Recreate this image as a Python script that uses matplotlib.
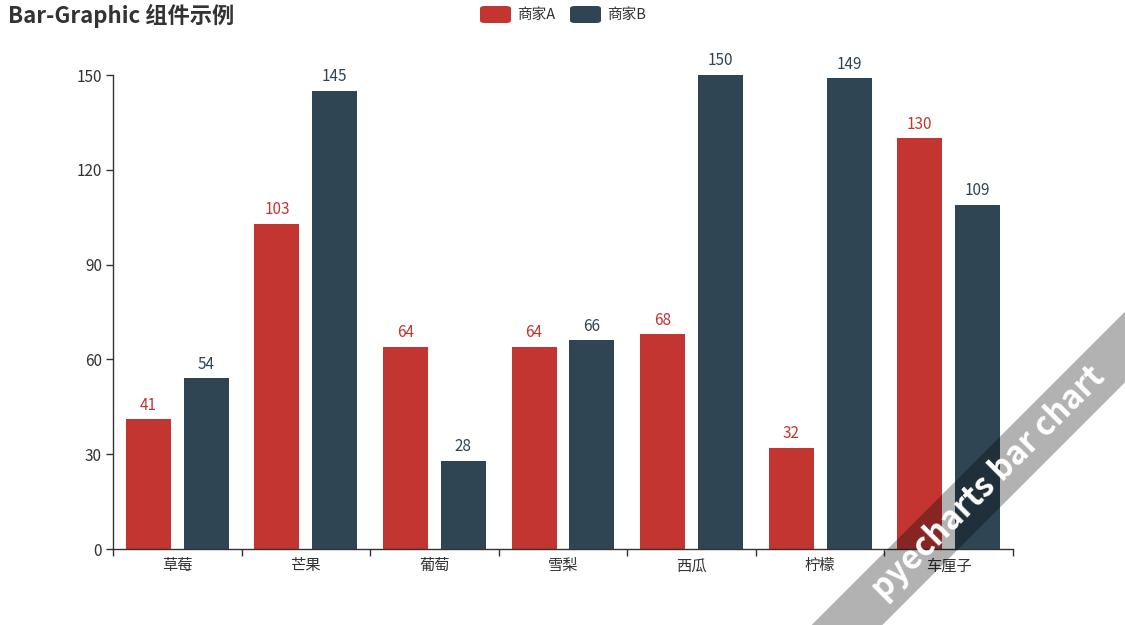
import matplotlib
matplotlib.use("Agg")
import matplotlib.pyplot as plt
from matplotlib.patches import Rectangle, FancyBboxPatch
from matplotlib.transforms import Affine2D
import numpy as np

plt.rcParams['font.family'] = ['Noto Sans CJK SC', 'DejaVu Sans']

categories = ["草莓", "芒果", "葡萄", "雪梨", "西瓜", "柠檬", "车厘子"]
series_a = [41, 103, 64, 64, 68, 32, 130]
series_b = [54, 145, 28, 66, 150, 149, 109]
series_names = ["商家A", "商家B"]
title = "Bar-Graphic 组件示例"
watermark = "pyecharts bar chart"
y_ticks = [0, 30, 60, 90, 120, 150]

col_a = "#c23531"
col_b = "#2f4554"
txt = "#333333"

W, H = 1125, 625
fig = plt.figure(figsize=(W / 100, H / 100), dpi=100)
ax = fig.add_axes([113 / W, (H - 549) / H, 900 / W, (549 - 75) / H])

x = np.arange(len(categories))
bw = 0.35
off = 0.225
ba = ax.bar(x - off, series_a, bw, color=col_a, zorder=2)
bb = ax.bar(x + off, series_b, bw, color=col_b, zorder=2)
ax.bar_label(ba, padding=4, color=col_a, fontsize=11)
ax.bar_label(bb, padding=4, color=col_b, fontsize=11)

ax.set_xlim(-0.5, len(categories) - 0.5)
ax.set_ylim(0, 150)
ax.set_yticks(y_ticks)
ax.set_yticklabels([str(v) for v in y_ticks], fontsize=11, color=txt)
ax.set_xticks(x)
ax.set_xticklabels(categories, fontsize=11, color=txt)
ax.set_xticks(np.arange(len(categories) + 1) - 0.5, minor=True)
ax.tick_params(axis='x', which='major', length=0, pad=6)
ax.tick_params(axis='x', which='minor', length=5, color=txt, width=1)
ax.tick_params(axis='y', length=5, color=txt, width=1, pad=3)
for s in ['top', 'right']:
    ax.spines[s].set_visible(False)
for s in ['left', 'bottom']:
    ax.spines[s].set_color(txt)
    ax.spines[s].set_linewidth(1)

# title
fig.text(8 / W, 1 - 16 / H, title, fontsize=16, fontweight='bold', color=txt,
         ha='left', va='center')

# legend
for i, (name, col) in enumerate(zip(series_names, [col_a, col_b])):
    x0 = 480 + i * 90
    p = FancyBboxPatch((x0 / W, 1 - 23 / H), 31 / W, 17 / H,
                       boxstyle="round,pad=0,rounding_size=0.004",
                       transform=fig.transFigure, facecolor=col, edgecolor='none')
    fig.add_artist(p)
    fig.text((x0 + 37) / W, 1 - 14.5 / H, name, fontsize=10.5, color=txt,
             ha='left', va='center')

# watermark band
cx, cy = 989 / 100, (H - 483) / 100
L, Hh = 9.0, 0.5
tr = Affine2D().rotate_deg_around(cx, cy, 45) + fig.dpi_scale_trans
band = Rectangle((cx - L / 2, cy - Hh / 2), L, Hh, transform=tr,
                 facecolor=(0, 0, 0, 0.3), edgecolor='none', zorder=10)
fig.add_artist(band)
fig.text(cx * 100 / W, cy * 100 / H, watermark, rotation=45, fontsize=23.5,
         fontweight='bold', color='white', ha='center', va='center',
         rotation_mode='anchor', zorder=11)

fig.savefig("out.png", dpi=100)
